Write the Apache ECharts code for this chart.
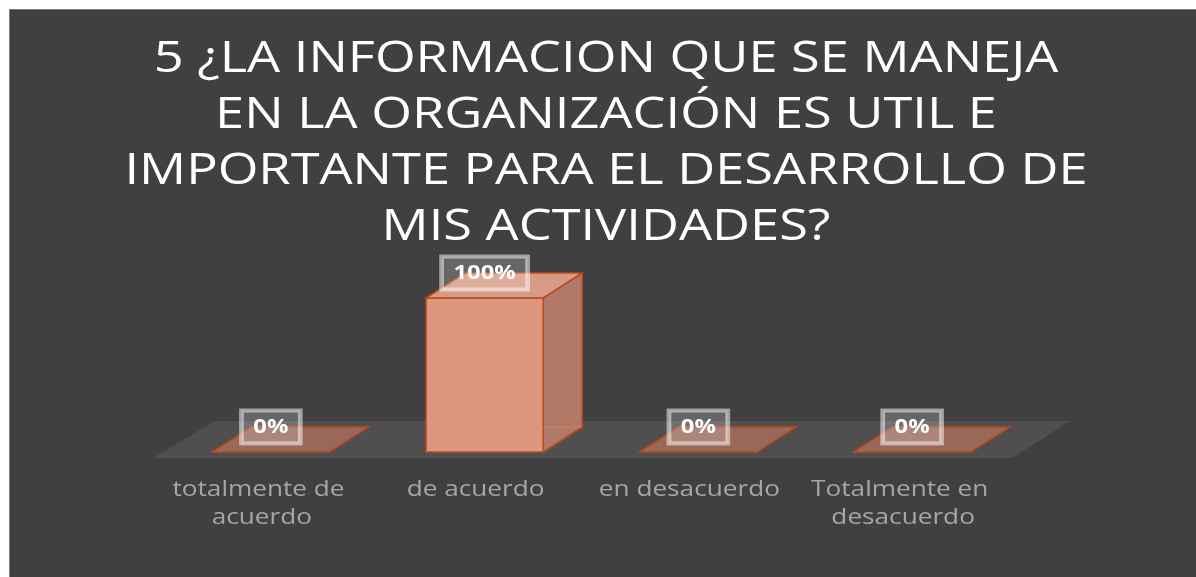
<!DOCTYPE html>
<html>
<head>
<meta charset="utf-8">
<script src="https://cdn.jsdelivr.net/npm/echarts@6/dist/echarts.min.js"></script>
<style>
  html, body { margin: 0; padding: 0; background: #fff; }
  #chart { width: 1196px; height: 577px; }
</style>
</head>
<body>
<div id="chart"></div>
<script>
var titleText = '5 ¿LA INFORMACION QUE SE MANEJA\nEN LA ORGANIZACIÓN ES UTIL E\nIMPORTANTE PARA EL DESARROLLO DE\nMIS ACTIVIDADES?';
var categories = ['totalmente de acuerdo', 'de acuerdo', 'en desacuerdo', 'Totalmente en desacuerdo'];
var values = [0, 100, 0, 0];

// the source picture is stretched sideways, so text gets a horizontal scale
var STRETCH = 1.19;
var DX = 39, DY = -25, SHIFT = 9;

function renderFloor(params, api) {
  var cs = params.coordSys;
  var front = cs.y + cs.height + 6;
  var back = front - 37;
  var left = cs.x - 2, right = cs.x + cs.width + 2;
  return {
    type: 'polygon',
    shape: { points: [[left, front], [right, front], [right + 58, back], [left + 62, back]] },
    style: { fill: '#504e4e' }
  };
}

function renderBar(params, api) {
  var i = api.value(0), v = api.value(1);
  var base = api.coord([i, 0]);
  var top = api.coord([i, v]);
  var w = api.size([1, 0])[0] * 0.548;
  var cx = base[0] + SHIFT;
  var x0 = cx - w / 2, x1 = cx + w / 2;
  var yb = base[1], yt = top[1];
  var edge = '#b84b20';
  var children = [];
  if (v > 0) {
    children.push({
      type: 'polygon',
      shape: { points: [[x1, yb], [x1 + DX, yb + DY], [x1 + DX, yt + DY], [x1, yt]] },
      style: { fill: '#b07a67', stroke: edge, lineWidth: 1.5 }
    });
    children.push({
      type: 'rect',
      shape: { x: x0, y: yt, width: w, height: yb - yt },
      style: { fill: '#db987e', stroke: edge, lineWidth: 1.5 }
    });
    // faint hidden edges seen through the glassy bar
    children.push({
      type: 'polyline',
      shape: { points: [[x0, yb], [x0 + DX, yb + DY], [x1 + DX, yb + DY]] },
      style: { fill: null, stroke: 'rgba(240,140,100,0.55)', lineWidth: 1 }
    });
    children.push({
      type: 'line',
      shape: { x1: x0 + DX, y1: yb + DY, x2: x0 + DX, y2: yt + DY },
      style: { stroke: 'rgba(240,140,100,0.55)', lineWidth: 1 }
    });
    children.push({
      type: 'polygon',
      shape: { points: [[x0, yt], [x1, yt], [x1 + DX, yt + DY], [x0 + DX, yt + DY]] },
      style: { fill: '#d79a82', stroke: edge, lineWidth: 1.5 }
    });
  } else {
    children.push({
      type: 'polygon',
      shape: { points: [[x0, yt], [x1, yt], [x1 + DX, yt + DY], [x0 + DX, yt + DY]] },
      style: { fill: 'rgba(225,130,100,0.5)', stroke: edge, lineWidth: 1.5 }
    });
  }
  // value label
  children.push({
    type: 'text',
    x: cx,
    y: yt - 25,
    scaleX: STRETCH,
    style: {
      text: v + '%',
      fill: '#ffffff',
      font: 'bold 20px "Open Sans", sans-serif',
      align: 'center',
      verticalAlign: 'middle',
      backgroundColor: 'rgba(255,255,255,0.2)',
      borderColor: 'rgba(255,255,255,0.5)',
      borderWidth: 2,
      padding: [7, 10, 6, 10],
      boxShadowBlur: 10,
      boxShadowColor: 'rgba(0,0,0,0.35)'
    }
  });
  // category label
  children.push({
    type: 'text',
    x: base[0],
    y: yb + 24,
    scaleX: STRETCH,
    style: {
      text: categories[i],
      fill: '#a6a6a6',
      font: '22px "Open Sans", sans-serif',
      lineHeight: 28,
      align: 'center',
      verticalAlign: 'top',
      width: 165,
      overflow: 'break'
    }
  });
  return { type: 'group', children: children };
}

var chart = echarts.init(document.getElementById('chart'));
chart.setOption({
  backgroundColor: '#ffffff',
  animation: false,
  graphic: [{
    type: 'rect',
    z: -10,
    shape: { x: 9.5, y: 9.5, width: 1200, height: 580 },
    style: { fill: '#404040', stroke: '#7a7a7a', lineWidth: 1 }
  }, {
    type: 'text',
    x: 606,
    y: 31,
    scaleX: STRETCH,
    style: {
      text: titleText,
      fill: '#ffffff',
      font: '44px "Open Sans", sans-serif',
      lineHeight: 56,
      align: 'center',
      verticalAlign: 'top'
    }
  }],
  grid: { left: 155, right: 186, top: 298, bottom: 125 },
  xAxis: {
    type: 'category',
    data: categories,
    axisLine: { show: false },
    axisTick: { show: false },
    splitLine: { show: false },
    axisLabel: { show: false }
  },
  yAxis: {
    type: 'value',
    min: 0,
    max: 100,
    show: false
  },
  series: [
    {
      type: 'custom',
      name: 'floor',
      z: 1,
      silent: true,
      data: [[0, 0]],
      renderItem: renderFloor
    },
    {
      type: 'custom',
      name: 'respuestas',
      z: 2,
      data: values.map(function (v, i) { return [i, v]; }),
      encode: { x: 0, y: 1 },
      renderItem: renderBar
    }
  ]
});
</script>
</body>
</html>
